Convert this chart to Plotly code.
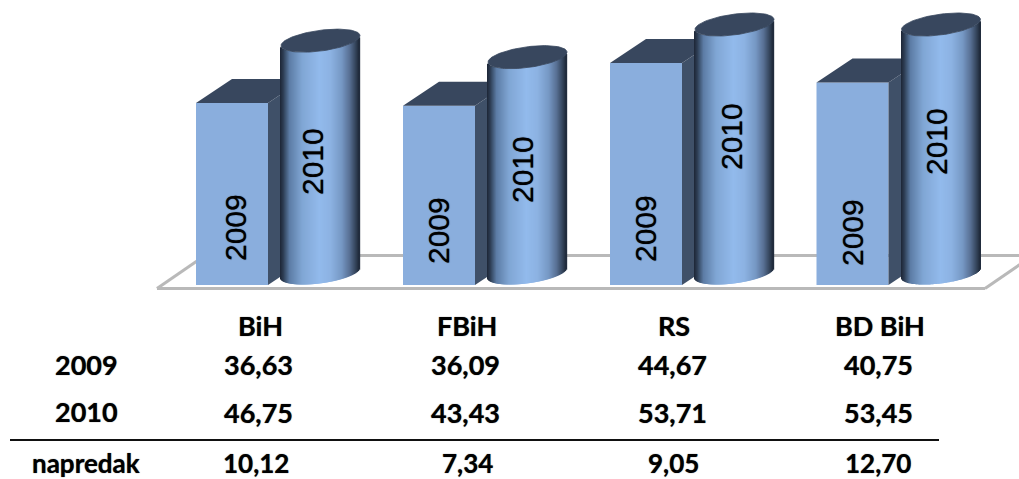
import numpy as np
import plotly.graph_objects as go

# ---- data ----
regions = ["BiH", "FBiH", "RS", "BD BiH"]
values_2009 = [36.63, 36.09, 44.67, 40.75]
values_2010 = [46.75, 43.43, 53.71, 53.45]
row_2009 = ["36,63", "36,09", "44,67", "40,75"]
row_2010 = ["46,75", "43,43", "53,71", "53,45"]
row_napredak = ["10,12", "7,34", "9,05", "12,70"]
series_names = ["2009", "2010"]
row_names = ["2009", "2010", "napredak"]
axis_max = 50  # the source axis stops here, so taller cylinders are cut off

# ---- layout constants (pixels of the 1019x479 canvas) ----
W, H = 1019, 479
BASE_PY = 285.0
PX_PER_UNIT = 4.97


def v(py):
    return (BASE_PY - py) / PX_PER_UNIT


box_left = [196, 403, 610, 816.5]
box_w = 72
depth_x, depth_y = 36, 24
cyl_left = [281, 488, 695, 901.5]
cyl_w = 79
cyl_base_py = 273
tilt, minor = 5.0, 10.4

FRONT = "#8aaedd"
SIDE = "#3f5068"
TOP = "#38475e"
stops = [(0.00, (28, 38, 54)), (0.04, (44, 60, 82)), (0.12, (92, 124, 165)),
         (0.28, (128, 166, 212)), (0.50, (146, 186, 236)), (0.64, (140, 178, 226)),
         (0.78, (118, 152, 196)), (0.88, (88, 112, 148)), (0.96, (50, 66, 88)), (1.00, (30, 40, 56))]


def grad(t):
    p = [s[0] for s in stops]
    c = [int(round(np.interp(t, p, [s[1][i] for s in stops]))) for i in range(3)]
    return f"rgb({c[0]},{c[1]},{c[2]})"


fig = go.Figure()

# 2009 boxes: front faces
fig.add_trace(go.Bar(x=[l + box_w / 2 for l in box_left], y=values_2009, width=box_w, base=0,
                     marker=dict(color=FRONT, line=dict(width=0)), name="2009",
                     xaxis="x", yaxis="y", showlegend=False))

# 2009 boxes: side and top faces
du = depth_y / PX_PER_UNIT
for l, val in zip(box_left, values_2009):
    r = l + box_w
    fig.add_trace(go.Scatter(x=[r, r + depth_x, r + depth_x, r, r], y=[0, du, val + du, val, 0],
                             mode="lines", fill="toself", fillcolor=SIDE, line=dict(width=0),
                             showlegend=False, xaxis="x", yaxis="y", hoverinfo="skip"))
    fig.add_trace(go.Scatter(x=[l, r, r + depth_x, l + depth_x, l],
                             y=[val, val, val + du, val + du, val],
                             mode="lines", fill="toself", fillcolor=TOP, line=dict(width=0),
                             showlegend=False, xaxis="x", yaxis="y", hoverinfo="skip"))

# 2010 cylinders: 1px strips for the shading, then the top ellipse
a = cyl_w / 2
for l, val in zip(cyl_left, values_2010):
    h = min(val, axis_max)
    cx = l + a
    u = np.arange(-a + 0.5, a, 1.0)
    low = cyl_base_py - tilt * u / a + minor * np.sqrt(1 - (u / a) ** 2)
    fig.add_trace(go.Bar(x=cx + u, y=[h] * len(u), base=v(low), width=1.35,
                         marker=dict(color=[grad((x + a) / cyl_w) for x in u], line=dict(width=0)),
                         name="2010", xaxis="x2", yaxis="y2", showlegend=False))
    th = np.linspace(0, 2 * np.pi, 90)
    ex = cx + a * np.cos(th)
    ey = v(cyl_base_py - tilt * np.cos(th) + minor * np.sin(th)) + h
    fig.add_trace(go.Scatter(x=ex, y=ey, mode="lines", fill="toself", fillcolor=TOP,
                             line=dict(width=0.8, color=TOP), showlegend=False,
                             xaxis="x2", yaxis="y2", hoverinfo="skip"))

# floor outline
FLOOR = "#b9b9b9"
floor_pts = [(157, 288.5), (985, 288.5), (1033, 255.5), (205, 255.5), (157, 288.5)]
shapes = []
for (x0, y0), (x1, y1) in zip(floor_pts[:-1], floor_pts[1:]):
    shapes.append(dict(type="line", xref="x", yref="y", x0=x0, x1=x1, y0=v(y0), y1=v(y1),
                       line=dict(color=FLOOR, width=3), layer="below"))
# rule above the last table row
shapes.append(dict(type="line", xref="x", yref="y", x0=10, x1=939, y0=v(440), y1=v(440),
                   line=dict(color="#111111", width=2)))

annotations = []


def label(x, py, text, font, angle=0):
    annotations.append(dict(x=x, y=v(py), xref="x", yref="y", text=text, showarrow=False,
                            textangle=angle, xanchor="center", yanchor="middle", font=font))


# text on the bars
bar_font = dict(family="Liberation Sans", size=30, color="#000000",
                shadow="0 0 1px rgba(0,0,0,0.8)")
lab09_x = [235, 438, 645, 852]
lab09_py = [228, 231, 229, 233]
lab10_x = [312, 522, 731, 936]
lab10_py = [162, 170, 137, 142]
for x, py in zip(lab09_x, lab09_py):
    label(x, py, series_names[0], bar_font, -90)
for x, py in zip(lab10_x, lab10_py):
    label(x, py, series_names[1], bar_font, -90)

# table under the chart
tfont = dict(family="Lato", size=27, color="#000000", weight="bold",
             shadow="0 0 1px rgba(0,0,0,0.7)")
tfont_last = dict(tfont, size=26)
head_x = [260, 467, 674, 880]
col_x = [258, 465, 672, 878]
nap_x = [256, 467, 673, 878]
for x, t in zip(head_x, regions):
    label(x, 325, t, tfont)
for x, t in zip(col_x, row_2009):
    label(x, 364, t, tfont)
for x, t in zip(col_x, row_2010):
    label(x, 412, t, tfont)
for x, t in zip(nap_x, row_napredak):
    label(x, 463, t, tfont_last)
for py, t, x, f in zip([364, 411, 463], row_names, [86, 86, 86], [tfont, tfont, tfont_last]):
    label(x, py, t, f)

ax_common = dict(visible=False, fixedrange=True)
xr = [0, W]
yr = [v(H), v(0)]
fig.update_layout(
    width=W, height=H, autosize=False,
    margin=dict(l=0, r=0, t=0, b=0),
    paper_bgcolor="#ffffff", plot_bgcolor="#ffffff",
    barmode="overlay", showlegend=False,
    xaxis=dict(range=xr, **ax_common),
    yaxis=dict(range=yr, **ax_common),
    xaxis2=dict(range=xr, overlaying="x", **ax_common),
    yaxis2=dict(range=yr, overlaying="y", **ax_common),
    shapes=shapes, annotations=annotations,
)

fig.write_html("out.html", config={"displayModeBar": False},
               post_script="document.body.style.margin='0';document.body.style.overflow='hidden';")
